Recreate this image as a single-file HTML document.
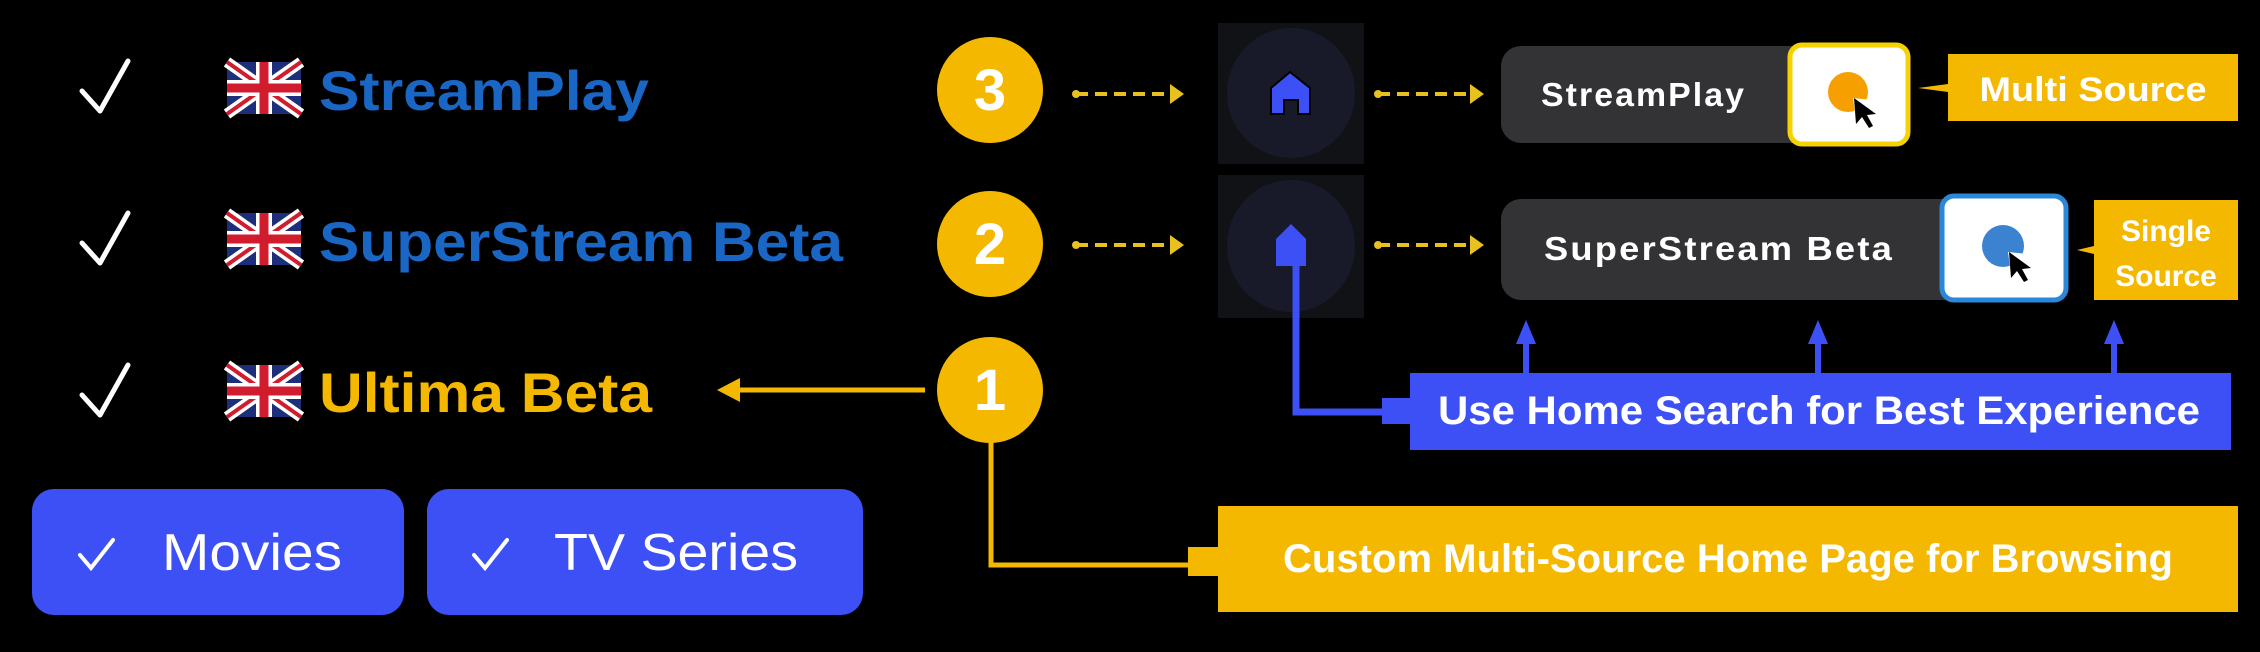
<!DOCTYPE html>
<html><head><meta charset="utf-8"><style>
html,body{margin:0;padding:0;background:#000;width:2260px;height:652px;overflow:hidden}
svg{display:block}
text{font-family:"Liberation Sans",sans-serif;font-weight:bold}
</style></head><body>
<svg width="2260" height="652" viewBox="0 0 2260 652" xmlns="http://www.w3.org/2000/svg">
<defs>
<g id="flag">
<rect x="0" y="0" width="74" height="52" fill="#1d2e7a"/>
<path d="M0 0L74 52M74 0L0 52" stroke="#fff" stroke-width="11"/>
<path d="M0 0L74 52M74 0L0 52" stroke="#d01c2c" stroke-width="4"/>
<path d="M37 0V52M0 26H74" stroke="#fff" stroke-width="16"/>
<path d="M37 0V52M0 26H74" stroke="#d01c2c" stroke-width="9"/>
</g>
<g id="chk"><path d="M0 30L18 50L46 0" fill="none" stroke="#fff" stroke-width="5" stroke-linecap="round" stroke-linejoin="round"/></g>
</defs>
<rect width="2260" height="652" fill="#000"/>
<use href="#chk" x="82" y="61"/>
<use href="#chk" x="82" y="213"/>
<use href="#chk" x="82" y="365"/>
<use href="#flag" x="227" y="62"/>
<use href="#flag" x="227" y="213"/>
<use href="#flag" x="227" y="365"/>
<text x="319" y="110" font-size="56" fill="#1a66c4" textLength="330" lengthAdjust="spacingAndGlyphs">StreamPlay</text>
<text x="319" y="261" font-size="56" fill="#1a66c4" textLength="524" lengthAdjust="spacingAndGlyphs">SuperStream Beta</text>
<text x="319" y="412" font-size="56" fill="#f5b800" textLength="333" lengthAdjust="spacingAndGlyphs">Ultima Beta</text>
<rect x="32" y="489" width="372" height="126" rx="22" fill="#3d50f5"/>
<rect x="427" y="489" width="436" height="126" rx="22" fill="#3d50f5"/>
<path d="M80 555L91 568L113 540" fill="none" stroke="#fff" stroke-width="4" stroke-linecap="round"/>
<path d="M474 555L485 568L507 540" fill="none" stroke="#fff" stroke-width="4" stroke-linecap="round"/>
<text x="162" y="570" font-size="52" fill="#fff" style="font-weight:normal" textLength="180" lengthAdjust="spacingAndGlyphs">Movies</text>
<text x="554" y="570" font-size="52" fill="#fff" style="font-weight:normal" textLength="244" lengthAdjust="spacingAndGlyphs">TV Series</text>
<path d="M925 390H738" stroke="#f5b800" stroke-width="5"/>
<path d="M717 390L740 378V402Z" fill="#f5b800"/>
<path d="M991 440V565H1190" fill="none" stroke="#f5b800" stroke-width="5"/>
<rect x="1188" y="547" width="30" height="29" fill="#f5b800"/>
<circle cx="990" cy="90" r="53" fill="#f5b800"/>
<circle cx="990" cy="244" r="53" fill="#f5b800"/>
<circle cx="990" cy="390" r="53" fill="#f5b800"/>
<text x="990" y="110" font-size="58" fill="#fff" text-anchor="middle">3</text>
<text x="990" y="264" font-size="58" fill="#fff" text-anchor="middle">2</text>
<text x="990" y="410" font-size="58" fill="#fff" text-anchor="middle">1</text>
<g stroke="#e8c020" stroke-width="4" stroke-dasharray="12 7">
<path d="M1076 94H1172"/><path d="M1076 245H1172"/>
<path d="M1378 94H1470"/><path d="M1378 245H1470"/>
</g>
<g fill="#e8c020">
<circle cx="1076" cy="94" r="4"/><circle cx="1076" cy="245" r="4"/>
<circle cx="1378" cy="94" r="4"/><circle cx="1378" cy="245" r="4"/>
<path d="M1184 94L1170 84V104Z"/><path d="M1184 245L1170 235V255Z"/>
<path d="M1484 94L1470 84V104Z"/><path d="M1484 245L1470 235V255Z"/>
</g>
<rect x="1218" y="23" width="146" height="141" fill="#111216"/>
<rect x="1218" y="175" width="146" height="143" fill="#111216"/>
<ellipse cx="1291" cy="93" rx="64" ry="65" fill="#181a2a"/>
<ellipse cx="1291" cy="246" rx="64" ry="66" fill="#181a2a"/>
<path d="M1271 114V88L1290 72L1310 88V114H1298V100H1284V114Z" fill="#3d50f5" stroke="#000" stroke-width="2"/>
<path d="M1276 266V239L1291 224L1306 239V266Z" fill="#3d50f5"/>
<path d="M1296 266V412H1384" fill="none" stroke="#3d50f5" stroke-width="7"/>
<rect x="1382" y="398" width="28" height="26" fill="#3d50f5"/>
<rect x="1410" y="373" width="821" height="77" fill="#3d50f5"/>
<text x="1438" y="424" font-size="40" fill="#fff" textLength="762" lengthAdjust="spacingAndGlyphs">Use Home Search for Best Experience</text>
<g fill="#3d50f5">
<rect x="1523" y="336" width="6" height="38"/><path d="M1526 320L1516 344H1536Z"/>
<rect x="1815" y="336" width="6" height="38"/><path d="M1818 320L1808 344H1828Z"/>
<rect x="2111" y="336" width="6" height="38"/><path d="M2114 320L2104 344H2124Z"/>
</g>
<rect x="1501" y="46" width="330" height="97" rx="20" fill="#333335"/>
<rect x="1790" y="45" width="118" height="99" rx="12" fill="#fff" stroke="#f5d200" stroke-width="5"/>
<text x="1541" y="106" font-size="33" fill="#fff" letter-spacing="2" textLength="205" lengthAdjust="spacingAndGlyphs">StreamPlay</text>
<circle cx="1848" cy="92" r="20" fill="#f5a000"/>
<path d="M1853 98L1872 100L1872 120L1856 120Z" fill="#fff"/>
<path d="M1854 98L1856 124L1862 117L1869 128L1873 126L1867 115L1876 114Z" fill="#000"/>
<rect x="1501" y="199" width="490" height="101" rx="20" fill="#333335"/>
<rect x="1942" y="196" width="124" height="104" rx="12" fill="#fff" stroke="#2b88d8" stroke-width="5"/>
<text x="1544" y="260" font-size="33" fill="#fff" letter-spacing="2" textLength="350" lengthAdjust="spacingAndGlyphs">SuperStream Beta</text>
<circle cx="2003" cy="246" r="21" fill="#3b82d0"/>
<path d="M2008 252L2028 254L2028 274L2011 274Z" fill="#fff"/>
<path d="M2009 252L2011 278L2017 271L2024 282L2028 280L2022 269L2031 268Z" fill="#000"/>
<path d="M1918 88L1948 84V92Z" fill="#f5b800"/>
<rect x="1948" y="54" width="290" height="67" fill="#f5b800"/>
<text x="2093" y="101" font-size="34" fill="#fff" text-anchor="middle" textLength="227" lengthAdjust="spacingAndGlyphs">Multi Source</text>
<path d="M2077 250L2094 246V254Z" fill="#f5b800"/>
<rect x="2094" y="200" width="144" height="100" fill="#f5b800"/>
<text x="2166" y="241" font-size="30" fill="#fff" text-anchor="middle">Single</text>
<text x="2166" y="286" font-size="30" fill="#fff" text-anchor="middle">Source</text>
<rect x="1218" y="506" width="1020" height="106" fill="#f5b800"/>
<text x="1283" y="572" font-size="40" fill="#fff" textLength="890" lengthAdjust="spacingAndGlyphs">Custom Multi-Source Home Page for Browsing</text>
</svg>
</body></html>
